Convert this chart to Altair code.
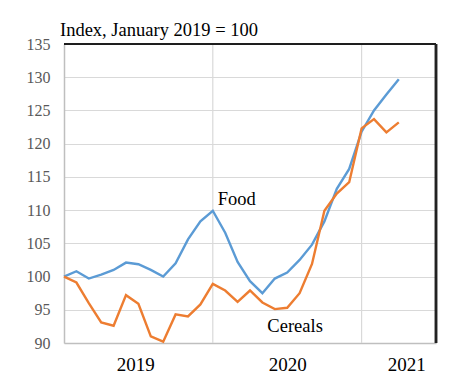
import altair as alt
import pandas as pd

months = list(range(28))  # Jan 2019 .. Apr 2021
food = [100, 100.8, 99.7, 100.3, 101.0, 102.1, 101.85, 101.0, 100.0, 102.0, 105.6, 108.3,
        109.9, 106.6, 102.2, 99.3, 97.5, 99.7, 100.6, 102.5, 104.8, 108.3, 113.2, 116.2,
        121.8, 125.0, 127.4, 129.7]
cereals = [100, 99.1, 96.0, 93.1, 92.6, 97.2, 95.9, 91.0, 90.2, 94.3, 94.0, 95.8,
           98.9, 97.9, 96.2, 97.9, 96.1, 95.1, 95.3, 97.5, 101.9, 109.9, 112.5, 114.2,
           122.3, 123.7, 121.7, 123.2]
year_labels = ["2019", "2020", "2021"]
year_label_pos = [5.75, 18.0, 27.6]
year_bounds = [12, 24]
y_ticks = [90, 95, 100, 105, 110, 115, 120, 125, 130, 135]
annot_text = ["Food", "Cereals"]
annot_x = [12.4, 16.4]
annot_y = [110.8, 91.7]

W, H = 372, 299
FONT = "'Liberation Serif', 'Times New Roman', 'DejaVu Serif', serif"

df = pd.DataFrame({
    "m": months * 2,
    "v": food + cereals,
    "s": ["Food"] * len(food) + ["Cereals"] * len(cereals),
})
bounds = pd.DataFrame({"m": year_bounds})
annots = pd.DataFrame({"t": annot_text, "m": annot_x, "v": annot_y})

label_expr = ("datum.value < 12 ? '2019' : datum.value < 24 ? '2020' : '2021'")

xscale = alt.Scale(domain=[0, 30], nice=False, zero=False)
yscale = alt.Scale(domain=[90, 135], nice=False, zero=False)

xaxis = alt.Axis(values=year_label_pos, labelExpr=label_expr, ticks=False, grid=False,
                 domainColor="#bfbfbf", domainWidth=1.5, labelFont=FONT, labelFontSize=19,
                 labelColor="#000000", labelPadding=12, labelOverlap=False, title=None)
yaxis = alt.Axis(values=y_ticks, ticks=False, grid=True, gridColor="#d9d9d9", gridWidth=1.2,
                 domainColor="#bfbfbf", domainWidth=1.5, labelFont=FONT, labelFontSize=16,
                 labelColor="#595959", labelPadding=14, labelOverlap=False, title=None)

grid_v = alt.Chart(bounds).mark_rule(color="#d9d9d9", strokeWidth=1.2).encode(
    x=alt.X("m:Q", scale=xscale, axis=xaxis)
)

lines = alt.Chart(df).mark_line(strokeWidth=2.4).encode(
    x=alt.X("m:Q", scale=xscale, axis=xaxis),
    y=alt.Y("v:Q", scale=yscale, axis=yaxis),
    color=alt.Color("s:N", scale=alt.Scale(domain=["Food", "Cereals"],
                                           range=["#5B9BD5", "#ED7D31"]), legend=None),
)

texts = alt.Chart(annots).mark_text(font=FONT, fontSize=18.5, align="left",
                                    baseline="alphabetic", color="#000000").encode(
    x=alt.X("m:Q", scale=xscale, axis=xaxis),
    y=alt.Y("v:Q", scale=yscale, axis=yaxis),
    text="t:N",
)

top_border = alt.Chart(bounds).mark_rule(color="#111111", strokeWidth=1.5).encode(
    x=alt.value(0), x2=alt.value(W), y=alt.value(0)
)
right_border = alt.Chart(bounds).mark_rule(color="#222222", strokeWidth=2.5).encode(
    x=alt.value(W), y=alt.value(0), y2=alt.value(H)
)

chart = alt.layer(grid_v, lines, texts, top_border, right_border).properties(
    width=W, height=H,
    title=alt.TitleParams(text="Index, January 2019 = 100", anchor="start", frame="group",
                          dx=-4, dy=27,
                          font=FONT, fontSize=18.5, fontWeight="normal", color="#000000",
                          offset=9, baseline="alphabetic"),
    autosize=alt.AutoSizeParams(type="none"),
    padding={"left": 56, "top": 36, "right": 10, "bottom": 34},
).configure_view(stroke=None).configure_axis(labelFont=FONT)

chart.save("out.html", embed_options={"renderer": "svg", "actions": False})
